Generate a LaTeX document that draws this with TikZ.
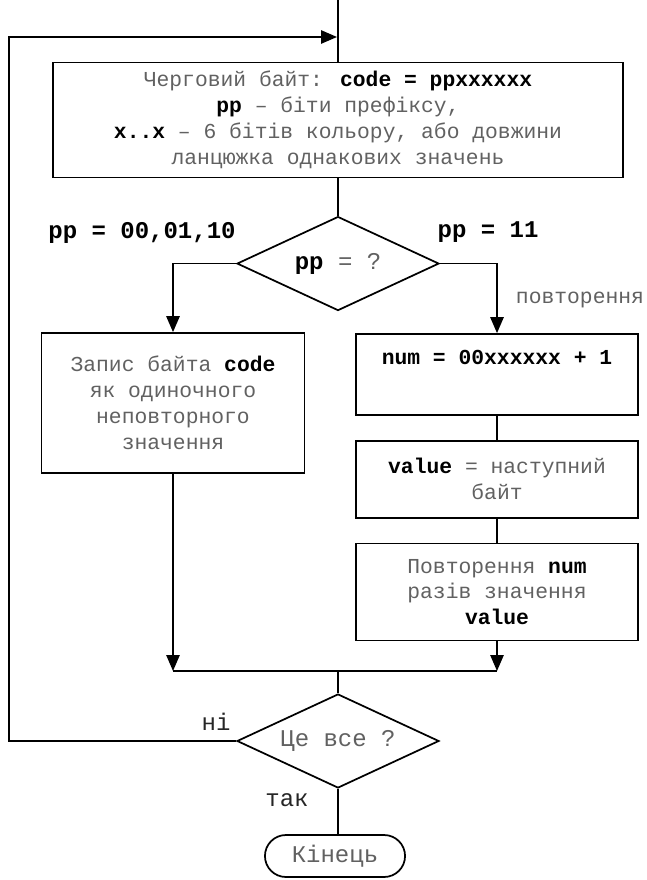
\documentclass[tikz,border=0pt]{standalone}
\usepackage{fontspec}
\setmainfont{Liberation Mono}
\usetikzlibrary{positioning, arrows.meta, shapes.geometric, shapes.misc}

\colorlet{soft}{black!62}
\newcommand{\bt}[1]{\textbf{\color{black}#1}}

\begin{document}
\begin{tikzpicture}[
    x=0.75pt, y=-0.75pt,
    line width=1.3pt,
    arr/.style={-{Triangle[length=12pt, width=10pt]}},
    box/.style={draw, align=center, text=soft, inner sep=2pt, font=\fontsize{16}{19.4}\selectfont},
    test/.style={draw, diamond, aspect=2, inner sep=1pt, text=soft, minimum width=151.5pt, minimum height=70.5pt, font=\fontsize{18}{20}\selectfont},
    term/.style={draw, rounded rectangle, text=soft, minimum width=111.75pt, minimum height=31.5pt, font=\fontsize{18}{20}\selectfont},
    lbl/.style={font=\fontsize{18}{20}\selectfont}
]{
    \useasboundingbox (0,0) rectangle (646,880);

    \node[box, minimum width=427.5pt, minimum height=86.25pt](header) at (338,120){Черговий байт: \bt{code = ppxxxxxx}\\ \bt{pp} – біти префіксу,\\ \bt{x..x} – 6 бітів кольору, або довжини\\ ланцюжка однакових значень};
    \node[test, below=28pt of header](choice){\bt{pp} = ?};

    % left branch
    \node[box, minimum width=197.25pt, minimum height=105pt](single) at (173,403){Запис байта \bt{code}\\ як одиночного\\ неповторного\\ значення};

    % right branch
    \node[box, minimum width=211.5pt, minimum height=60.75pt](repA) at (497,374.5){\bt{num = 00xxxxxx + 1}\\ \strut};
    \node[box, minimum width=211.5pt, minimum height=57.75pt, below=18pt of repA](repB){\bt{value} = наступний\\ байт};
    \node[box, minimum width=211.5pt, minimum height=72.75pt, below=18pt of repB](repC){Повторення \bt{num}\\ разів значення\\ \bt{value}};

    \node[test](done) at (338,741){Це все ?};
    \node[term](stop) at (335,856){Кінець};

    \node[lbl](lbl_left) at (142,233){\bt{pp = 00,01,10}};
    \node[lbl](lbl_right) at (488,232){\bt{pp = 11}};
    \node[box, draw=none](lbl_repeat) at (580,300){повторення};
    \node[lbl, text=black!85](lbl_no) at (216,722){ні};
    \node[lbl, text=black!85](lbl_yes) at (287,800){так};

    \coordinate (entry) at (338,0);
    \coordinate (back) at (9,37);
    \coordinate (looptop) at (337,37);
    \coordinate (join) at (338,671);

    \draw(entry) -- (header);
    \draw(header) -- (choice);
    \draw[arr](choice.west) -| (single.north);
    \draw[arr](choice.east) -| (repA.north);
    \draw(repA) -- (repB);
    \draw(repB) -- (repC);

    \draw[arr](single) -- (single |- join);
    \draw[arr](repC) -- (repC |- join);
    \draw(single |- join) -- (repC |- join);
    \draw(join) -- (done);
    \draw(done) -- (done |- stop.north);

    \draw[arr](done.west) -| (back) -- (looptop);
}
\end{tikzpicture}
\end{document}
